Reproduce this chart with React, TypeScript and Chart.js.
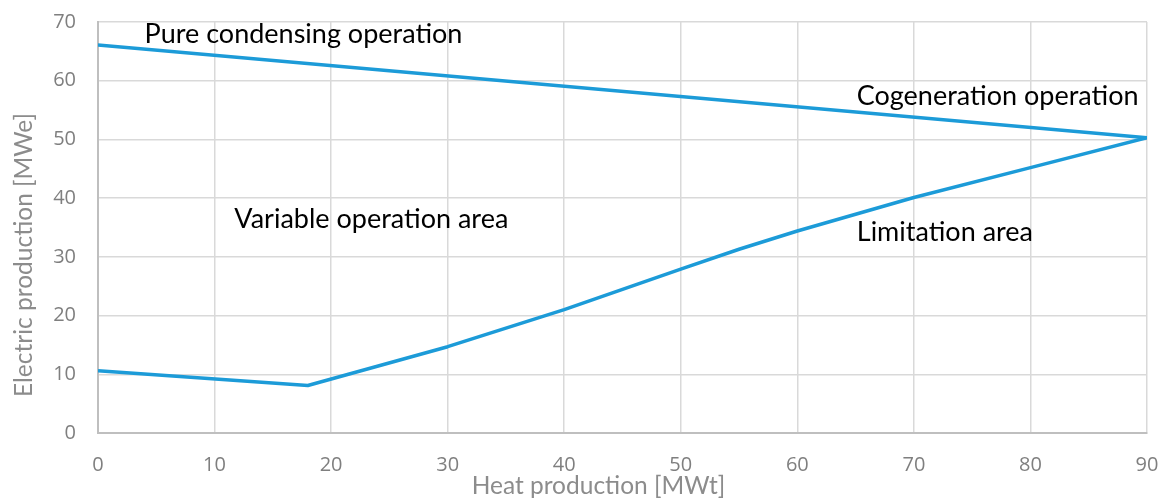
import React, { useEffect, useRef } from "react";
import { Chart, registerables } from "chart.js";

Chart.register(...registerables);

const upperX = [0, 90];
const upperY = [66.1, 50.3];
const lowerX = [0, 18, 30, 40, 50, 55, 60, 70, 80, 90];
const lowerY = [10.6, 8.1, 14.7, 21.0, 27.9, 31.3, 34.4, 40.1, 45.2, 50.3];
const xTicks = [0, 10, 20, 30, 40, 50, 60, 70, 80, 90];
const yTicks = [0, 10, 20, 30, 40, 50, 60, 70];
const xTitle = "Heat production [MWt]";
const yTitle = "Electric production [MWe]";
const labels = [
  { text: "Pure condensing operation", x: 4.0, y: 66.4 },
  { text: "Cogeneration operation", x: 65.1, y: 55.9 },
  { text: "Variable operation area", x: 11.7, y: 35.0 },
  { text: "Limitation area", x: 65.1, y: 32.7 },
];

const LABEL_FONT = "Lato, 'Open Sans', sans-serif";
const TICK_FONT = "'Open Sans', sans-serif";
const LINE = "#1c9bd8";

export default function App() {
  const ref = useRef<HTMLCanvasElement | null>(null);
  useEffect(() => {
    document.body.style.margin = "0";
    const ctx = ref.current!.getContext("2d")!;
    const textPlugin = {
      id: "areaLabels",
      afterDatasetsDraw(chart: any) {
        const c = chart.ctx;
        const xs = chart.scales.x;
        const ys = chart.scales.y;
        c.save();
        c.fillStyle = "#000";
        c.font = `27px ${LABEL_FONT}`;
        c.textAlign = "left";
        c.textBaseline = "alphabetic";
        for (const l of labels) {
          c.fillText(l.text, xs.getPixelForValue(l.x), ys.getPixelForValue(l.y));
        }
        // axis titles
        c.fillStyle = "#8c8c8c";
        c.font = `24.5px ${LABEL_FONT}`;
        c.textAlign = "center";
        c.fillText(xTitle, 598.5, 494);
        c.translate(32, 255);
        c.rotate(-Math.PI / 2);
        c.fillText(yTitle, 0, 0);
        c.restore();
      },
    };
    const chart = new Chart(ctx, {
      type: "scatter",
      data: {
        datasets: [
          {
            data: upperX.map((x, i) => ({ x, y: upperY[i] })),
            showLine: true,
            borderColor: LINE,
            borderWidth: 3.5,
            pointRadius: 0,
            tension: 0,
          },
          {
            data: lowerX.map((x, i) => ({ x, y: lowerY[i] })),
            showLine: true,
            borderColor: LINE,
            borderWidth: 3.5,
            pointRadius: 0,
            tension: 0,
            borderJoinStyle: "round",
          },
        ],
      },
      options: {
        animation: false,
        responsive: false,
        layout: { padding: { left: 0, right: 19, top: 22, bottom: 0 } },
        plugins: { legend: { display: false }, tooltip: { enabled: false } },
        scales: {
          x: {
            type: "linear",
            min: 0,
            max: 90,
            afterBuildTicks: (s: any) => {
              s.ticks = xTicks.map((v) => ({ value: v }));
            },
            afterFit: (s: any) => {
              s.height = 70;
              s.paddingLeft = 0;
              s.paddingRight = 0;
            },
            grid: { color: "#d9d9d9", lineWidth: 1.5, drawTicks: false },
            border: { color: "#bfbfbf", width: 2 },
            ticks: { color: "#7f7f7f", font: { family: TICK_FONT, size: 20 }, padding: 20, maxRotation: 0 },
          },
          y: {
            type: "linear",
            min: 0,
            max: 70,
            afterBuildTicks: (s: any) => {
              s.ticks = yTicks.map((v) => ({ value: v }));
            },
            afterFit: (s: any) => {
              s.width = 98;
              s.paddingTop = 0;
              s.paddingBottom = 0;
            },
            grid: { color: "#d9d9d9", lineWidth: 1.5, drawTicks: false },
            border: { color: "#bfbfbf", width: 2 },
            ticks: { color: "#7f7f7f", font: { family: TICK_FONT, size: 20 }, padding: 22 },
          },
        },
      },
      plugins: [textPlugin],
    });
    return () => chart.destroy();
  }, []);
  return (
    <div style={{ width: 1166, height: 503, background: "#fff" }}>
      <canvas ref={ref} width={1166} height={503} />
    </div>
  );
}
